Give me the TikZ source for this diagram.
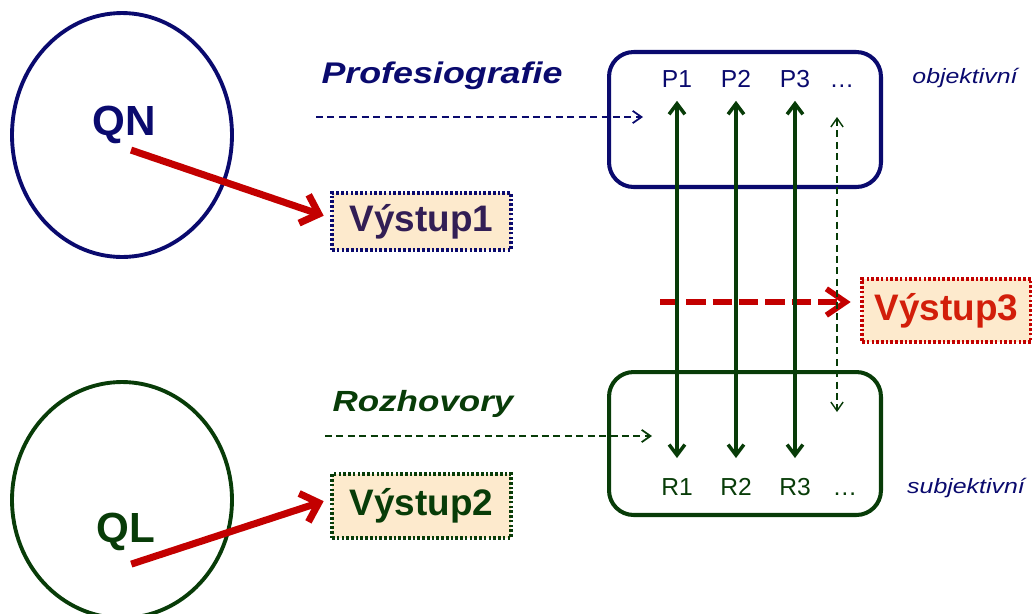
\documentclass[tikz,border=0pt]{standalone}
\usepackage{fontspec}
\setmainfont{Liberation Sans}
\newfontfamily\widefont[FakeStretch=1.2]{Liberation Sans}
\usetikzlibrary{arrows.meta,shapes}
\definecolor{navy}{RGB}{10,10,110}
\definecolor{dkgreen}{RGB}{8,60,8}
\definecolor{dkred}{RGB}{195,0,0}
\definecolor{outred}{RGB}{210,30,10}
\definecolor{outpurple}{RGB}{50,30,85}
\definecolor{peach}{RGB}{253,234,205}
\tikzstyle{method}=[ellipse, draw, line width=2.2pt, inner sep=0pt, minimum width=4.4cm]
\tikzstyle{outbox}=[draw, fill=peach, line width=1.9pt, dash pattern=on 1.5pt off 1.2pt,
 font=\fontsize{21}{25}\selectfont\bfseries, minimum width=3.58cm]
\tikzstyle{group}=[draw, rounded corners=14pt, line width=2.3pt, minimum width=5.44cm]
\tikzstyle{item}=[inner sep=2pt, text height=10pt, text depth=0pt, font=\fontsize{14}{16}\selectfont]
\tikzstyle{link}=[>={Straight Barb[length=6pt,width=9pt]}, <->, dkgreen, line width=2pt]
\tikzstyle{feed}=[>={Straight Barb[length=5pt,width=7pt]}, ->, line width=1pt, dash pattern=on 4pt off 2.5pt]
\tikzstyle{result}=[>={Straight Barb[length=9pt,width=17pt]}, ->, dkred, line width=4pt]
\tikzstyle{synth}=[>={Straight Barb[length=11pt,width=15pt]}, ->, dkred, line width=3.2pt, dash pattern=on 11pt off 4pt]

\begin{document}
\begin{tikzpicture}[x=0.02cm, y=-0.02cm]
	\useasboundingbox (0,0) rectangle (1032,613);

		% Methods
		\node[method, navy, minimum height=4.88cm] (qncirc) at (122,135) {};
		\node[navy, font=\fontsize{24}{28}\selectfont\bfseries] (qn) at (124,125) {QN};
		\node[method, dkgreen, minimum height=4.72cm] (qlcirc) at (122,500) {};
		\node[dkgreen, font=\fontsize{24}{28}\selectfont\bfseries] (ql) at (126,532) {QL};
		% Outputs
		\node[outbox, draw=navy, text=outpurple, minimum height=1.14cm] (out1) at (421.5,221.5) {Výstup1};
		\node[outbox, draw=dkgreen, text=dkgreen, minimum height=1.28cm] (out2) at (421.5,506) {Výstup2};
		\node[outbox, draw=dkred, text=outred, minimum width=3.38cm, minimum height=1.26cm] (out3) at (946.5,310.5) {Výstup3};
		% Sources
		\node[navy, font=\widefont\fontsize{17}{20}\selectfont\bfseries\itshape] (prof) at (442,76) {Profesiografie};
		\node[dkgreen, font=\widefont\fontsize{16.6}{20}\selectfont\bfseries\itshape] (rozh) at (423,404) {Rozhovory};
		\node[navy, font=\widefont\fontsize{11.8}{14}\selectfont\itshape] (obj) at (965,78) {objektivní};
		\node[navy, font=\widefont\fontsize{11.8}{14}\selectfont\itshape] (subj) at (966,488) {subjektivní};
		% Groups
		\node[group, navy, minimum height=2.7cm] (pbox) at (745,119.5) {};
		\node[group, dkgreen, minimum height=2.86cm] (rbox) at (745,443.5) {};
		\foreach \xpos/\lab/\name in {677/P1/p1, 736/P2/p2, 795/P3/p3, 842/…/pd}
		\node[item, navy] (\name) at (\xpos,78.5) {\lab};
		\foreach \xpos/\lab/\name in {677/R1/r1, 736/R2/r2, 795/R3/r3, 845/…/rd}
		\node[item, dkgreen] (\name) at (\xpos,486.5) {\lab};

		\coordinate (profin) at (316,117);
		\coordinate (profend) at (643,117);
		\coordinate (rozhin) at (325,436);
		\coordinate (rozhend) at (652,436);
		\coordinate (dtop) at (837,117);
		\coordinate (dbot) at (837,412);
		\coordinate (synstart) at (660,302);

		\draw[feed, navy] (profin) -- (profend);
		\draw[feed, dkgreen] (rozhin) -- (rozhend);
		\draw[synth, shorten >=5.5pt] (synstart) -- (synstart -| out3.west);
		\foreach \i in {1,2,3}
		\draw[link, shorten <=5.5pt, shorten >=9pt] (p\i) -- (r\i);
		\draw[feed, <->, dkgreen, line width=0.8pt] (dtop) -- (dbot);

		\draw[result, shorten >=4pt] ([xshift=4pt]qn.south) -- ([yshift=2pt]out1.west);
		\draw[result, shorten >=4pt] ([xshift=3pt,yshift=-4pt]ql.south) -- ([yshift=4pt]out2.west);
\end{tikzpicture}
\end{document}
